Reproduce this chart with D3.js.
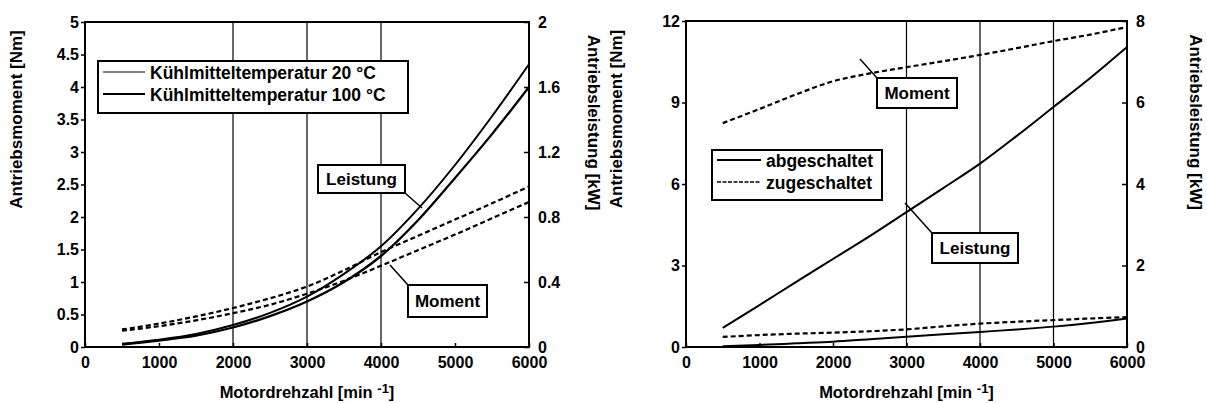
<!DOCTYPE html>
<html><head><meta charset="utf-8">
<script src="https://cdn.jsdelivr.net/npm/d3@7"></script>
<style>
html,body{margin:0;padding:0;background:#fff;}
text{font-family:"Liberation Sans",Arial,sans-serif;font-weight:bold;fill:#000;}
</style></head>
<body><svg id="c" width="1207" height="403"></svg>
<script>
// ---------- data ----------
const rpm = [500,1000,1500,2000,2500,3000,3500,4000,4500,5000,5500,6000];
const xTicks = [0,1000,2000,3000,4000,5000,6000];

// left panel (Kühlmitteltemperatur)
const leftPower20  = [0.02,0.045,0.08,0.135,0.21,0.31,0.45,0.62,0.85,1.12,1.42,1.74];   // kW
const leftPower100 = [0.015,0.04,0.07,0.12,0.19,0.28,0.40,0.56,0.78,1.04,1.31,1.60];   // kW
const leftTorque20  = [0.27,0.36,0.47,0.60,0.75,0.93,1.18,1.46,1.71,1.96,2.21,2.47];  // Nm
const leftTorque100 = [0.25,0.32,0.41,0.52,0.65,0.82,1.02,1.25,1.49,1.73,1.98,2.23];  // Nm
const leftYTicks = [0,0.5,1,1.5,2,2.5,3,3.5,4,4.5,5];
const leftY2Ticks = [0,0.4,0.8,1.2,1.6,2];
const leftGrid = [2000,3000,4000];
const leftLegend = ["Kühlmitteltemperatur 20 °C","Kühlmitteltemperatur 100 °C"];

// right panel (abgeschaltet / zugeschaltet)
const rightTorqueOn  = [8.24,8.76,9.3,9.78,10.07,10.3,10.52,10.75,11.0,11.26,11.5,11.78]; // Nm
const rightTorqueOff = [0.37,0.44,0.49,0.53,0.58,0.65,0.76,0.86,0.93,0.99,1.05,1.10];    // Nm
const rightPowerOn   = [0.47,1.03,1.6,2.16,2.72,3.31,3.9,4.5,5.18,5.89,6.6,7.36];        // kW
const rightPowerOff  = [0.02,0.05,0.09,0.13,0.19,0.25,0.31,0.37,0.43,0.50,0.59,0.70];    // kW
const rightYTicks = [0,3,6,9,12];
const rightY2Ticks = [0,2,4,6,8];
const rightGrid = [3000,4000,5000];
const rightLegend = ["abgeschaltet","zugeschaltet"];

const yTitle = "Antriebsmoment [Nm]";
const y2Title = "Antriebsleistung [kW]";

// ---------- drawing ----------
const svg = d3.select("#c");

function panel(o){
  const g = svg.append("g");
  const x = d3.scaleLinear().domain([0,6000]).range([o.x0,o.x1]);
  const y = d3.scaleLinear().domain([0,o.yMax]).range([o.yb,o.yt]);
  const y2 = d3.scaleLinear().domain([0,o.y2Max]).range([o.yb,o.yt]);

  // grid
  g.selectAll(".grid").data(o.grid).join("line")
    .attr("x1",d=>x(d)).attr("x2",d=>x(d)).attr("y1",o.yt).attr("y2",o.yb)
    .attr("stroke","#000").attr("stroke-width",1.2);

  // axes
  const ax = d3.axisBottom(x).tickValues(xTicks).tickSize(-4).tickPadding(10).tickFormat(d3.format("d"));
  const gx = g.append("g").attr("transform",`translate(0,${o.yb})`).call(ax);
  const ay = d3.axisLeft(y).tickValues(o.yTicks).tickSize(4).tickPadding(2).tickFormat(d=>String(d));
  const gy = g.append("g").attr("transform",`translate(${o.x0},0)`).call(ay);
  const ay2 = d3.axisRight(y2).tickValues(o.y2Ticks).tickSize(-5).tickPadding(9).tickFormat(d=>String(d));
  const gy2 = g.append("g").attr("transform",`translate(${o.x1},0)`).call(ay2);
  [gx,gy,gy2].forEach(a=>{
    a.select(".domain").remove();
    a.selectAll(".tick line").attr("stroke","#000").attr("stroke-width",1.5);
    a.selectAll(".tick text").style("font-size","16px").attr("fill","#000");
  });
  gx.selectAll(".tick text").attr("dy","0.35em").attr("y",15);
  // frame
  g.append("rect").attr("x",o.x0).attr("y",o.yt).attr("width",o.x1-o.x0).attr("height",o.yb-o.yt)
    .attr("fill","none").attr("stroke","#000").attr("stroke-width",2);

  // series
  o.series.forEach(s=>{
    const sc = s.axis===2 ? y2 : y;
    const line = d3.line().x((d,i)=>x(rpm[i])).y(d=>sc(d)).curve(d3.curveCatmullRom.alpha(0.5));
    g.append("path").attr("d",line(s.values)).attr("fill","none").attr("stroke","#000")
      .attr("stroke-width",s.w).attr("stroke-dasharray",s.dash||null);
  });

  // legend
  const L = o.legend;
  g.append("rect").attr("x",L.x).attr("y",L.y).attr("width",L.w).attr("height",L.h)
    .attr("fill","#fff").attr("stroke","#000").attr("stroke-width",2);
  L.items.forEach((it,i)=>{
    const yy = L.y + L.row0 + i*L.dy;
    g.append("line").attr("x1",L.x+5).attr("x2",L.x+5+L.len).attr("y1",yy).attr("y2",yy)
      .attr("stroke","#000").attr("stroke-width",it.w).attr("stroke-dasharray",it.dash||null);
    g.append("text").attr("x",L.x+10+L.len).attr("y",yy+6.5).style("font-size","17.5px").text(it.label);
  });

  // callout labels
  o.callouts.forEach(c=>{
    g.append("line").attr("x1",c.lx1).attr("y1",c.ly1).attr("x2",c.lx2).attr("y2",c.ly2)
      .attr("stroke","#000").attr("stroke-width",1.5);
    g.append("rect").attr("x",c.x).attr("y",c.y).attr("width",c.w).attr("height",c.h)
      .attr("fill","#fff").attr("stroke","#000").attr("stroke-width",2);
    g.append("text").attr("x",c.x+c.w/2).attr("y",c.y+c.h/2+6).attr("text-anchor","middle")
      .style("font-size","17px").text(c.text);
  });

  // titles
  const xt = g.append("text").attr("x",(o.x0+o.x1)/2).attr("y",398).attr("text-anchor","middle").style("font-size","16.5px");
  xt.append("tspan").text("Motordrehzahl [min ");
  xt.append("tspan").text("-1").attr("dy",-5).style("font-size","13px");
  xt.append("tspan").text("]").attr("dy",5);
  g.append("text").attr("transform",`translate(${o.ytx},${(o.yt+o.yb)/2 - 65}) rotate(-90)`)
    .attr("text-anchor","middle").style("font-size","17px").text(yTitle);
  g.append("text").attr("transform",`translate(${o.y2tx},${(o.yt+o.yb)/2 - 62}) rotate(90)`)
    .attr("text-anchor","middle").style("font-size","17px").text(y2Title);
}

panel({
  x0:85, x1:529, yt:22, yb:347, yMax:5, y2Max:2,
  yTicks:leftYTicks, y2Ticks:leftY2Ticks, grid:leftGrid, ytx:22, y2tx:588,
  series:[
    {values:leftPower20, axis:2, w:2},
    {values:leftPower100, axis:2, w:2.3},
    {values:leftTorque20, axis:1, w:2.2, dash:"5,3"},
    {values:leftTorque100, axis:1, w:2.2, dash:"5,3"}
  ],
  legend:{x:98,y:61,w:310,h:52,len:42,row0:11,dy:22,
    items:[{label:leftLegend[0],w:1},{label:leftLegend[1],w:2}]},
  callouts:[
    {text:"Leistung",x:318,y:165,w:87,h:28,lx1:405,ly1:193,lx2:422,ly2:208},
    {text:"Moment",x:408,y:285,w:79,h:32,lx1:408,ly1:285,lx2:390,ly2:265}
  ]
});

panel({
  x0:686, x1:1127, yt:21, yb:347, yMax:12, y2Max:8,
  yTicks:rightYTicks, y2Ticks:rightY2Ticks, grid:rightGrid, ytx:622, y2tx:1190,
  series:[
    {values:rightPowerOn, axis:2, w:2},
    {values:rightPowerOff, axis:2, w:2},
    {values:rightTorqueOn, axis:1, w:2.2, dash:"5,3"},
    {values:rightTorqueOff, axis:1, w:2.2, dash:"5,3"}
  ],
  legend:{x:712,y:150,w:170,h:50,len:44,row0:10,dy:22,
    items:[{label:rightLegend[0],w:2.2},{label:rightLegend[1],w:1.3,dash:"4,1.5"}]},
  callouts:[
    {text:"Moment",x:877,y:78,w:80,h:30,lx1:877,ly1:78,lx2:860,ly2:59},
    {text:"Leistung",x:932,y:233,w:86,h:30,lx1:932,ly1:233,lx2:905,ly2:203}
  ]
});
</script></body></html>
